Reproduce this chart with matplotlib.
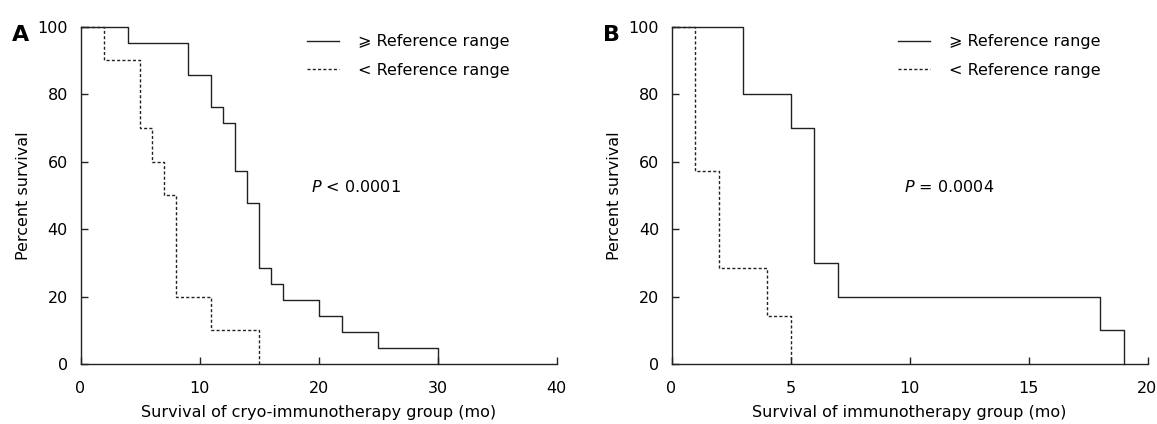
import matplotlib
matplotlib.use("Agg")
import matplotlib.pyplot as plt

plt.rcParams['font.family'] = ['DejaVu Sans']
plt.rcParams['mathtext.fontset'] = 'dejavusans'

# Kaplan-Meier steps (months, percent survival)
a_hi_t = [0, 4, 9, 11, 12, 13, 14, 15, 16, 17, 20, 22, 25, 30]
a_hi_s = [100, 95.2, 85.7, 76.2, 71.4, 57.1, 47.6, 28.6, 23.8, 19.0, 14.3, 9.5, 4.8, 0]
a_lo_t = [0, 2, 5, 6, 7, 8, 11, 15]
a_lo_s = [100, 90, 70, 60, 50, 20, 10, 0]

b_hi_t = [0, 3, 5, 6, 7, 18, 19]
b_hi_s = [100, 80, 70, 30, 20, 10, 0]
b_lo_t = [0, 1, 2, 4, 5]
b_lo_s = [100, 57.1, 28.6, 14.3, 0]

hi_label = "\u2A7E Reference range"
lo_label = "< Reference range"
ylab = "Percent survival"
xlab_a = "Survival of cryo-immunotherapy group (mo)"
xlab_b = "Survival of immunotherapy group (mo)"
p_a = r"$\it{P}$ < 0.0001"
p_b = r"$\it{P}$ = 0.0004"

fs = 11.5
W, H = 1157, 424
fig = plt.figure(figsize=(W / 100, H / 100), dpi=100)
axA = fig.add_axes([80.5 / W, 1 - 364 / H, 476 / W, (364 - 26.7) / H])
axB = fig.add_axes([671.5 / W, 1 - 364 / H, 476 / W, (364 - 26.7) / H])


def panel(ax, hi_t, hi_s, lo_t, lo_s, xmax, xstep, xlab, ptxt, px):
    ax.step(hi_t, hi_s, where='post', color='#222222', lw=1.0, clip_on=False,
            label=hi_label)
    ax.step(lo_t, lo_s, where='post', color='#222222', lw=1.0, clip_on=False,
            linestyle=(0, (2.2, 1.6)), label=lo_label)
    ax.set_xlim(0, xmax)
    ax.set_ylim(0, 100)
    ax.set_xticks(range(0, xmax + 1, xstep))
    ax.set_yticks(range(0, 101, 20))
    for s in ['top', 'right']:
        ax.spines[s].set_visible(False)
    for s in ['left', 'bottom']:
        ax.spines[s].set_linewidth(1.0)
        ax.spines[s].set_color('#222222')
    ax.tick_params(direction='in', length=5, width=1.0, color='#222222',
                   labelsize=fs)
    ax.tick_params(axis='y', pad=9)
    ax.tick_params(axis='x', pad=12)
    ax.set_xlabel(xlab, fontsize=fs, labelpad=7)
    ax.set_ylabel(ylab, fontsize=fs, labelpad=5)
    ax.text(px, 52.4, ptxt, fontsize=fs, va='center', ha='left')
    ax.legend(loc='upper left', bbox_to_anchor=(0.476, 0.977), frameon=False,
              fontsize=fs, handlelength=2.0, handletextpad=1.2,
              borderaxespad=0, borderpad=0, labelspacing=0.85)


panel(axA, a_hi_t, a_hi_s, a_lo_t, a_lo_s, 40, 10, xlab_a, p_a, 19.4)
panel(axB, b_hi_t, b_hi_s, b_lo_t, b_lo_s, 20, 5, xlab_b, p_b, 9.75)

fig.text(12 / W, 1 - 41 / H, "A", fontsize=16, fontweight='bold', va='baseline')
fig.text(603 / W, 1 - 41 / H, "B", fontsize=16, fontweight='bold', va='baseline')

fig.savefig("out.png", dpi=100)
